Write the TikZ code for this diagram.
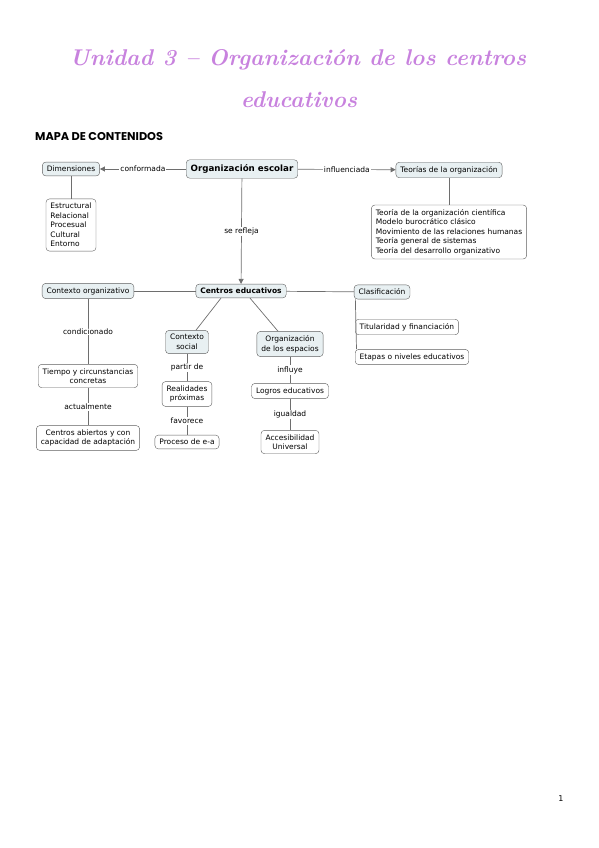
\documentclass[tikz,border=0pt]{standalone}
\usepackage{fontspec}
\setmainfont{DejaVu Sans}
\newfontfamily\headfont{Poppins}
\newfontfamily\titlefont{Latin Modern Roman}
\usetikzlibrary{arrows.meta,calc}
\usepackage{xcolor}
\definecolor{titlepurple}{RGB}{200,130,222}
\definecolor{boxfill}{RGB}{232,240,242}
\definecolor{boxline}{RGB}{95,95,95}
\definecolor{linkgray}{RGB}{110,110,110}

\begin{document}
\begin{tikzpicture}[x=1pt,y=-1pt,
  concept/.style={draw=boxline, rounded corners=3.5pt, fill=boxfill, align=center,
    font=\fontsize{7.5}{9.6}\selectfont, inner xsep=4.5pt, inner ysep=4pt},
  leaf/.style={concept, fill=white},
  linklbl/.style={fill=white, inner sep=1pt, font=\fontsize{7.5}{9.3}\selectfont},
  link/.style={draw=linkgray, line width=0.7pt},
  tip/.style={-{Triangle[length=5pt,width=5pt]}},
  titletext/.style={titlepurple, font=\titlefont\bfseries\itshape\fontsize{22.8}{27}\selectfont}]
  \useasboundingbox (0,0) rectangle (599,848);
  % title
  \node[titletext] (title1) at (298,60) {Unidad 3 – Organización de los centros};
  \node[titletext] (title2) at (299,100) {educativos};
  \node[anchor=west, font=\headfont\bfseries\fontsize{11.3}{12}\selectfont, inner sep=0pt] (mapa) at (35,137)
    {MAPA DE CONTENIDOS};
  % upper row
  \node[concept, font=\bfseries\fontsize{8.7}{10}\selectfont, inner ysep=4.8pt] (orgesc) at (242,169) {Organización escolar};
  \node[concept] (dimen) at (71,169) {Dimensiones};
  \node[concept] (teorias) at (449,170) {Teorías de la organización};
  \node[leaf, align=left] (dimlist) at (71,225) {Estructural\\Relacional\\Procesual\\Cultural\\Entorno};
  \node[leaf, align=left] (teolist) at (449,232) {Teoría de la organización científica\\Modelo burocrático clásico\\Movimiento de las relaciones humanas\\Teoría general de sistemas\\Teoría del desarrollo organizativo};
  \draw[link, tip] (orgesc) -- node[linklbl] {conformada} (dimen);
  \draw[link, tip] (orgesc) -- node[linklbl] {influenciada} (teorias);
  \draw[link] (dimen) -- (dimlist);
  \draw[link] (teorias) -- (teolist);
  % centros educativos
  \node[concept, font=\bfseries\fontsize{7.5}{9}\selectfont] (centros) at (241,291) {Centros educativos};
  \draw[link, tip] (orgesc) -- node[linklbl] {se refleja} (centros);
  \node[concept] (ctxorg) at (88,291) {Contexto organizativo};
  \node[concept] (clasif) at (382,292) {Clasificación};
  \node[concept] (ctxsoc) at (187,342) {Contexto\\social};
  \node[concept] (orgesp) at (290,344) {Organización\\de los espacios};
  \draw[link] (centros) -- (ctxorg);
  \draw[link] (centros) -- (clasif);
  \draw[link] ([xshift=-20pt]centros.south) -- ([xshift=9pt]ctxsoc.north);
  \draw[link] ([xshift=9pt]centros.south) -- ([xshift=-12pt]orgesp.north);
  % left branch
  \node[leaf] (tiempo) at (88,376) {Tiempo y circunstancias\\concretas};
  \node[leaf] (abiertos) at (88,438) {Centros abiertos y con\\capacidad de adaptación};
  \draw[link] (ctxorg) -- node[linklbl] {condicionado} (tiempo);
  \draw[link] (tiempo) -- node[linklbl] {actualmente} (abiertos);
  % contexto social
  \node[leaf] (realid) at (187,394) {Realidades\\próximas};
  \node[leaf] (proceso) at (187,442) {Proceso de e-a};
  \draw[link] (ctxsoc) -- node[linklbl] {partir de} (realid);
  \draw[link] (realid) -- node[linklbl] {favorece} (proceso);
  % espacios
  \node[leaf] (logros) at (290,391) {Logros educativos};
  \node[leaf] (acces) at (290,442) {Accesibilidad\\Universal};
  \draw[link] (orgesp) -- node[linklbl] {influye} (logros);
  \draw[link] (logros) -- node[linklbl] {igualdad} (acces);
  % clasificacion
  \node[leaf, anchor=west] (titular) at (355,327) {Titularidad y financiación};
  \node[leaf, anchor=west] (etapas) at (355,357) {Etapas o niveles educativos};
  \draw[link] ([xshift=1.5pt]clasif.south west) -- ([xshift=1.5pt]etapas.north west);
  % page number
  \node[font=\fontsize{8}{9}\selectfont] (pagenum) at (561,799) {1};
\end{tikzpicture}
\end{document}
